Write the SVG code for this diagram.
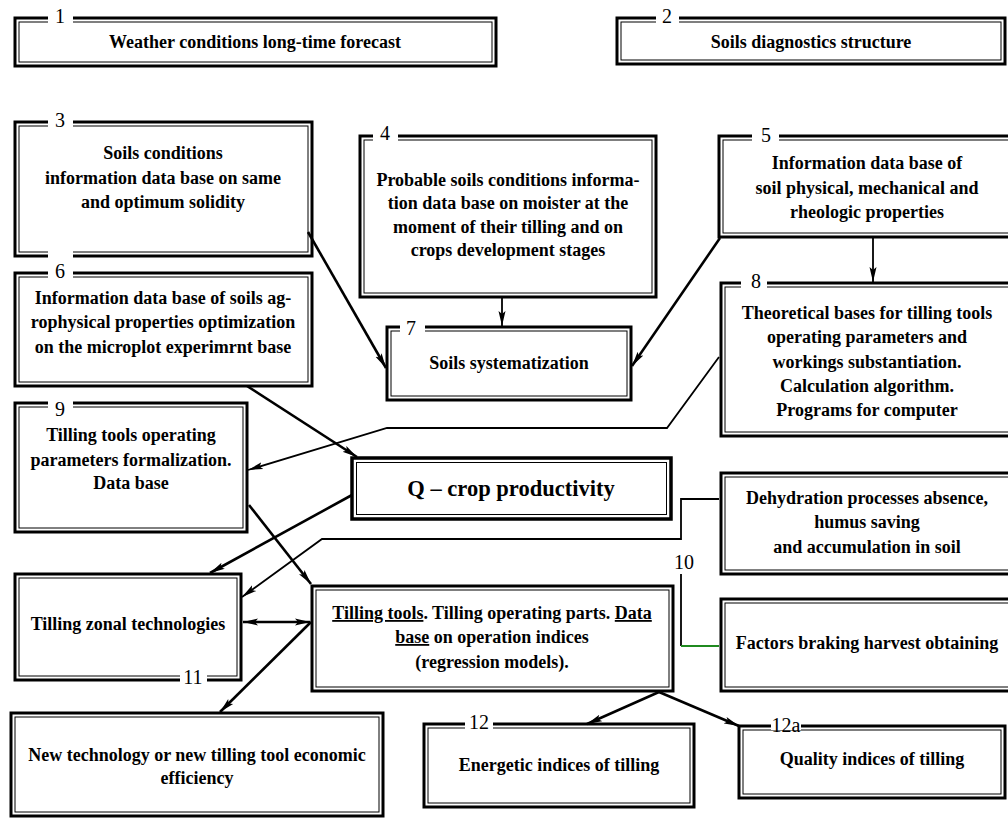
<svg xmlns="http://www.w3.org/2000/svg" width="1008" height="818" viewBox="0 0 1008 818">
<style>
.o{fill:#fff;stroke:#000;stroke-width:3}
.i{fill:none;stroke:#000;stroke-width:1}
.t{font-family:"Liberation Serif","Times New Roman",serif;font-weight:bold;font-size:18px;text-anchor:middle;fill:#000}
.q{font-size:22.5px}
.n{font-family:"Liberation Serif","Times New Roman",serif;font-size:20px;text-anchor:middle;fill:#000}
.gap{fill:#fff}
.c{fill:none;stroke:#000;stroke-width:2.6}
.c2{fill:none;stroke:#000;stroke-width:1.8}
.u{text-decoration:underline}
</style>
<defs>
<marker id="ah" markerWidth="15" markerHeight="9" refX="15" refY="4.5" orient="auto-start-reverse" markerUnits="userSpaceOnUse">
<path d="M0,1 L15,4.5 L0,8 L3,4.5 z" fill="#000"/>
</marker>
</defs>
<rect width="1008" height="818" fill="#fff"/>

<g id="node1">
<rect class="o" x="15" y="18" width="481" height="48"/><rect class="i" x="19" y="22" width="473" height="40"/>
<rect class="gap" x="48" y="10" width="25" height="16"/><text class="n" x="60" y="23">1</text>
<text class="t" x="255" y="48">Weather conditions long-time forecast</text>
</g>
<g id="node2">
<rect class="o" x="617" y="18" width="388" height="46"/><rect class="i" x="621" y="22" width="380" height="38"/>
<rect class="gap" x="656" y="10" width="23" height="16"/><text class="n" x="667" y="23">2</text>
<text class="t" x="811" y="48">Soils diagnostics structure</text>
</g>
<g id="node3">
<rect class="o" x="15" y="122" width="297" height="134"/><rect class="i" x="19" y="126" width="289" height="126"/>
<rect class="gap" x="48" y="112" width="25" height="18"/><text class="n" x="60" y="127">3</text>
<text class="t" x="163" y="159">Soils conditions</text>
<text class="t" x="163" y="184">information data base on same</text>
<text class="t" x="163" y="208">and optimum solidity</text>
</g>
<g id="node4">
<rect class="o" x="360" y="136" width="296" height="161"/><rect class="i" x="364" y="140" width="288" height="153"/>
<rect class="gap" x="373" y="126" width="25" height="18"/><text class="n" x="385" y="140">4</text>
<text class="t" x="508" y="186">Probable soils conditions informa-</text>
<text class="t" x="508" y="209">tion data base on moister at the</text>
<text class="t" x="508" y="233">moment of their tilling and on</text>
<text class="t" x="508" y="256">crops development stages</text>
</g>
<g id="node5">
<rect class="o" x="719" y="136" width="300" height="101"/><rect class="i" x="723" y="140" width="292" height="93"/>
<rect class="gap" x="752" y="126" width="27" height="18"/><text class="n" x="766" y="142">5</text>
<text class="t" x="867" y="169">Information data base of</text>
<text class="t" x="867" y="194">soil physical, mechanical and</text>
<text class="t" x="867" y="218">rheologic properties</text>
</g>
<g id="node6">
<rect class="o" x="15" y="273" width="297" height="113"/><rect class="i" x="19" y="277" width="289" height="105"/>
<rect class="gap" x="48" y="250" width="25" height="28"/><text class="n" x="60" y="278">6</text>
<text class="t" x="163" y="304">Information data base of soils ag-</text>
<text class="t" x="163" y="328">rophysical properties optimization</text>
<text class="t" x="163" y="353">on the microplot experimrnt base</text>
</g>
<g id="node7">
<rect class="o" x="387" y="327" width="244" height="73"/><rect class="i" x="391" y="331" width="236" height="65"/>
<rect class="gap" x="400" y="317" width="25" height="18"/><text class="n" x="411" y="335">7</text>
<text class="t" x="509" y="369">Soils systematization</text>
</g>
<g id="node8">
<rect class="o" x="721" y="283" width="300" height="153"/><rect class="i" x="725" y="287" width="292" height="145"/>
<rect class="gap" x="741" y="273" width="26" height="18"/><text class="n" x="756" y="288">8</text>
<text class="t" x="867" y="319">Theoretical bases for tilling tools</text>
<text class="t" x="867" y="343">operating parameters and</text>
<text class="t" x="867" y="368">workings substantiation.</text>
<text class="t" x="867" y="392">Calculation algorithm.</text>
<text class="t" x="867" y="416">Programs for computer</text>
</g>
<g id="node9">
<rect class="o" x="15" y="403" width="232" height="129"/><rect class="i" x="19" y="407" width="224" height="121"/>
<rect class="gap" x="48" y="395" width="25" height="16"/><text class="n" x="60" y="416">9</text>
<text class="t" x="131" y="441">Tilling tools operating</text>
<text class="t" x="131" y="466">parameters formalization.</text>
<text class="t" x="131" y="489">Data base</text>
</g>
<g id="nodeQ">
<rect class="o" x="352" y="458" width="319" height="61" style="stroke-width:3.5"/><rect class="i" x="356.5" y="462.5" width="310" height="52"/>
<text class="t q" x="511" y="496">Q – crop productivity</text>
</g>
<g id="node10a">
<rect class="o" x="721" y="473" width="300" height="101"/><rect class="i" x="725" y="477" width="292" height="93"/>
<text class="t" x="867" y="504">Dehydration processes absence,</text>
<text class="t" x="867" y="528">humus saving</text>
<text class="t" x="867" y="553">and accumulation in soil</text>
</g>
<g id="node10b">
<rect class="o" x="721" y="599" width="300" height="92"/><rect class="i" x="725" y="603" width="292" height="84"/>
<text class="t" x="867" y="649">Factors braking harvest obtaining</text>
</g>
<g id="node11">
<rect class="o" x="15" y="574" width="226" height="106"/><rect class="i" x="19" y="578" width="218" height="98"/>
<rect class="gap" x="180" y="670" width="27" height="14"/><text class="n" x="193" y="684">11</text>
<text class="t" x="128" y="630">Tilling zonal technologies</text>
</g>
<g id="nodeT">
<rect class="o" x="312" y="586" width="361" height="105"/><rect class="i" x="316" y="590" width="353" height="97"/>
<text class="t" x="492" y="619"><tspan class="u">Tilling tools</tspan>. Tilling operating parts. <tspan class="u">Data</tspan></text>
<text class="t" x="492" y="643"><tspan class="u">base</tspan> on operation indices</text>
<text class="t" x="492" y="668">(regression models).</text>
</g>
<g id="nodeN">
<rect class="o" x="11" y="713" width="372" height="103"/><rect class="i" x="15" y="717" width="364" height="95"/>
<text class="t" x="197" y="761">New technology or new tilling tool economic</text>
<text class="t" x="197" y="784">efficiency</text>
</g>
<g id="node12">
<rect class="o" x="424" y="724" width="270" height="83"/><rect class="i" x="428" y="728" width="262" height="75"/>
<rect class="gap" x="465" y="714" width="28" height="16"/><text class="n" x="479" y="729">12</text>
<text class="t" x="559" y="771">Energetic indices of tilling</text>
</g>
<g id="node12a">
<rect class="o" x="739" y="726" width="266" height="72"/><rect class="i" x="743" y="730" width="258" height="64"/>
<rect class="gap" x="771" y="716" width="30" height="14"/><text class="n" x="786" y="732">12a</text>
<text class="t" x="872" y="765">Quality indices of tilling</text>
</g>

<g id="connectors">
<path class="c2" d="M502,298 L502,326" marker-end="url(#ah)"/>
<path class="c2" d="M873,238 L873,282" marker-end="url(#ah)"/>
<path class="c" d="M308,232 L386,368" marker-end="url(#ah)"/>
<path class="c" d="M720,238 L632,366" marker-end="url(#ah)"/>
<path class="c2" d="M719,357 L667,428 L387,428 L248,470" marker-end="url(#ah)"/>
<path class="c" d="M247,386 L357,457" marker-end="url(#ah)"/>
<path class="c" d="M352,495 L210,573" marker-end="url(#ah)"/>
<path class="c" d="M249,505 L311,584" marker-end="url(#ah)"/>
<path class="c2" d="M719,499 L681,499 L681,539 L322,539 L242,597" marker-end="url(#ah)"/>
<path class="c2" d="M681,574 L681,646"/>
<path d="M681,646 L719,646" fill="none" stroke="#1f8a1f" stroke-width="1.8"/>
<text class="n" x="684" y="569">10</text>
<path class="c" d="M243,622 L310,622" marker-start="url(#ah)" marker-end="url(#ah)"/>
<path class="c" d="M311,622 L220,712" marker-end="url(#ah)"/>
<path class="c" d="M659,692 L587,724" marker-end="url(#ah)"/>
<path class="c" d="M659,692 L739,726" marker-end="url(#ah)"/>
</g>
</svg>
